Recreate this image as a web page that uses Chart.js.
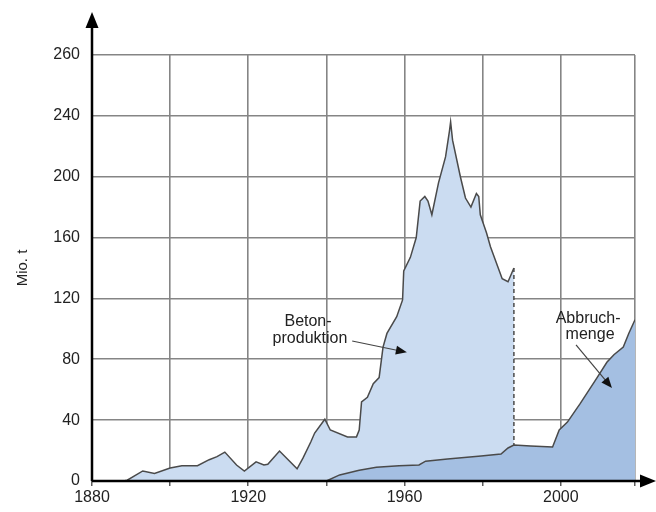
<!DOCTYPE html>
<html>
<head>
<meta charset="utf-8">
<script src="https://cdn.jsdelivr.net/npm/chart.js@4/dist/chart.umd.min.js"></script>
<style>
  html, body { margin: 0; padding: 0; background: #fff; }
  #wrap { width: 656px; height: 512px; }
</style>
</head>
<body>
<div id="wrap"><canvas id="betonChart" width="656" height="512"></canvas></div>
<script>
// Betonproduktion (Mio. t), last point = drop down to the Abbruchmenge curve (dashed)
var betonYears = [1888, 1889, 1893, 1896, 1900, 1903, 1907, 1910, 1912, 1914, 1917, 1919, 1922, 1924, 1925, 1928, 1932.5, 1934, 1936, 1937, 1939.6, 1941, 1945.4, 1947.7, 1948.4, 1949, 1950.5, 1952, 1953.5, 1954.5, 1955.5, 1958, 1959.5, 1959.8, 1961.5, 1963, 1964, 1965.2, 1966, 1967, 1968.7, 1970.5, 1971.5, 1971.8, 1972.3, 1974.3, 1975.6, 1977, 1978.4, 1979, 1979.4, 1981, 1982, 1985, 1986.5, 1988, 1988];
var betonValues = [0, 0.5, 6.6, 5, 8.5, 10, 10, 14, 16, 19, 10.5, 6.5, 12.6, 10.5, 11, 19.7, 8, 15, 25.6, 31.5, 40.6, 33.5, 29, 29, 33.5, 52, 55, 64, 68, 88, 97, 108, 119, 138, 147, 160, 184, 187, 184, 175, 196, 213, 230, 236, 224, 200, 186, 180, 189, 187, 175, 163, 154, 133, 131, 140, 23.6];

// Abbruchmenge (Mio. t)
var abbruchYears = [1940, 1943.4, 1948.4, 1952.8, 1958.6, 1963.7, 1965.4, 1971, 1979.6, 1984.7, 1986.5, 1988, 1992.3, 1997.9, 1999.6, 2001.7, 2005, 2009.3, 2011.8, 2013.6, 2016, 2017.4, 2019];
var abbruchValues = [0, 4, 7, 9, 10, 10.5, 13, 14.5, 16.5, 17.7, 21.7, 23.6, 23, 22.3, 33.5, 38.7, 51, 68, 78, 83, 88, 97, 106];

var xTicks = [1880, 1900, 1920, 1940, 1960, 1980, 2000, 2019];
var xLabels = [1880, 1920, 1960, 2000];
var yTicks = [0, 40, 80, 120, 160, 200, 240, 280];
var yLabels = ['0', '40', '80', '120', '160', '200', '240', '260'];

var fontFam = "'Liberation Sans Narrow', 'Liberation Sans', Arial, sans-serif";

function toPoints(xs, ys) {
	return xs.map(function (x, i) { return { x: x, y: ys[i] }; });
}

// axis lines with arrows + annotation texts
var decoPlugin = {
	id: 'deco',
	afterDraw: function (chart) {
		var c = chart.ctx, a = chart.chartArea;
		var xs = chart.scales.x, ys = chart.scales.y;
		c.save();
		c.strokeStyle = '#000';
		c.fillStyle = '#000';
		c.lineWidth = 2.5;
		c.beginPath();
		c.moveTo(a.left, a.bottom);
		c.lineTo(a.left, 24);
		c.moveTo(a.left, a.bottom);
		c.lineTo(646, a.bottom);
		c.stroke();
		c.beginPath();
		c.moveTo(a.left - 6.5, 28); c.lineTo(a.left, 12); c.lineTo(a.left + 6.5, 28);
		c.closePath(); c.fill();
		c.beginPath();
		c.moveTo(640, a.bottom - 6.5); c.lineTo(656, a.bottom); c.lineTo(640, a.bottom + 6.5);
		c.closePath(); c.fill();

		// labels
		c.font = '16px ' + fontFam;
		c.fillStyle = '#222';
		c.textAlign = 'center';
		c.textBaseline = 'middle';
		c.fillText('Beton-', xs.getPixelForValue(1935.3), ys.getPixelForValue(104.5));
		c.fillText('produktion', xs.getPixelForValue(1935.8), ys.getPixelForValue(93.3));
		c.fillText('Abbruch-', xs.getPixelForValue(2007), ys.getPixelForValue(107));
		c.fillText('menge', xs.getPixelForValue(2007.5), ys.getPixelForValue(96));

		drawArrow(c, xs.getPixelForValue(1946.6), ys.getPixelForValue(92), xs.getPixelForValue(1960.6), ys.getPixelForValue(84.6));
		drawArrow(c, xs.getPixelForValue(2003.9), ys.getPixelForValue(89.4), xs.getPixelForValue(2013.1), ys.getPixelForValue(61.1));
		c.restore();
	}
};

function drawArrow(c, x1, y1, x2, y2) {
	var ang = Math.atan2(y2 - y1, x2 - x1);
	c.strokeStyle = '#444';
	c.lineWidth = 1.2;
	c.beginPath();
	c.moveTo(x1, y1);
	c.lineTo(x2 - 9 * Math.cos(ang), y2 - 9 * Math.sin(ang));
	c.stroke();
	c.fillStyle = '#111';
	c.beginPath();
	c.moveTo(x2, y2);
	c.lineTo(x2 - 11 * Math.cos(ang) + 4.5 * Math.sin(ang), y2 - 11 * Math.sin(ang) - 4.5 * Math.cos(ang));
	c.lineTo(x2 - 11 * Math.cos(ang) - 4.5 * Math.sin(ang), y2 - 11 * Math.sin(ang) + 4.5 * Math.cos(ang));
	c.closePath();
	c.fill();
}

var ctx = document.getElementById('betonChart').getContext('2d');
var betonChart = new Chart(ctx, {
	type: 'line',
	data: {
		datasets: [{
			label: 'Abbruchmenge',
			data: toPoints(abbruchYears, abbruchValues),
			borderColor: '#4a4a4a',
			borderWidth: 1.5,
			backgroundColor: '#a4bfe2',
			fill: 'origin',
			pointRadius: 0,
			tension: 0,
			order: 1
		}, {
			label: 'Betonproduktion',
			data: toPoints(betonYears.slice(0, -1), betonValues.slice(0, -1)),
			borderColor: '#4a4a4a',
			borderWidth: 1.5,
			backgroundColor: '#cbdcf1',
			fill: 'origin',
			pointRadius: 0,
			tension: 0,
			order: 3
		}, {
			// dashed drop at the end of the Betonproduktion series
			label: 'Betonproduktion Ende',
			data: toPoints(betonYears.slice(-2), betonValues.slice(-2)),
			borderColor: '#4a4a4a',
			borderWidth: 1.5,
			borderDash: [4, 3],
			fill: false,
			pointRadius: 0,
			order: 2
		}]
	},
	options: {
		responsive: false,
		animation: false,
		layout: { padding: { top: 55, right: 21, left: 0, bottom: 0 } },
		plugins: {
			legend: { display: false },
			tooltip: { enabled: false }
		},
		scales: {
			x: {
				type: 'linear',
				min: 1880,
				max: 2019,
				afterBuildTicks: function (s) { s.ticks = xTicks.map(function (v) { return { value: v }; }); },
				afterFit: function (s) { s.height = 31; },
				border: { display: false },
				grid: { color: '#858585', lineWidth: 1.6, tickLength: 5, tickColor: '#333', tickWidth: 1.2 },
				ticks: {
					autoSkip: false,
					maxRotation: 0,
					padding: 2,
					color: '#222',
					font: { family: fontFam, size: 16 },
					callback: function (v) { return xLabels.indexOf(v) >= 0 ? String(v) : ''; }
				}
			},
			y: {
				min: 0,
				max: 280,
				afterBuildTicks: function (s) { s.ticks = yTicks.map(function (v) { return { value: v }; }); },
				afterFit: function (s) { s.width = 92; },
				border: { display: false },
				grid: { color: '#858585', lineWidth: 1.6, drawTicks: false },
				title: {
					display: true,
					text: 'Mio. t',
					color: '#222',
					font: { family: fontFam, size: 15 },
					padding: { top: 14, bottom: 0 }
				},
				ticks: {
					padding: 12,
					color: '#222',
					font: { family: fontFam, size: 16 },
					callback: function (v) { return yLabels[yTicks.indexOf(v)]; }
				}
			}
		}
	},
	plugins: [decoPlugin]
});
</script>
</body>
</html>
